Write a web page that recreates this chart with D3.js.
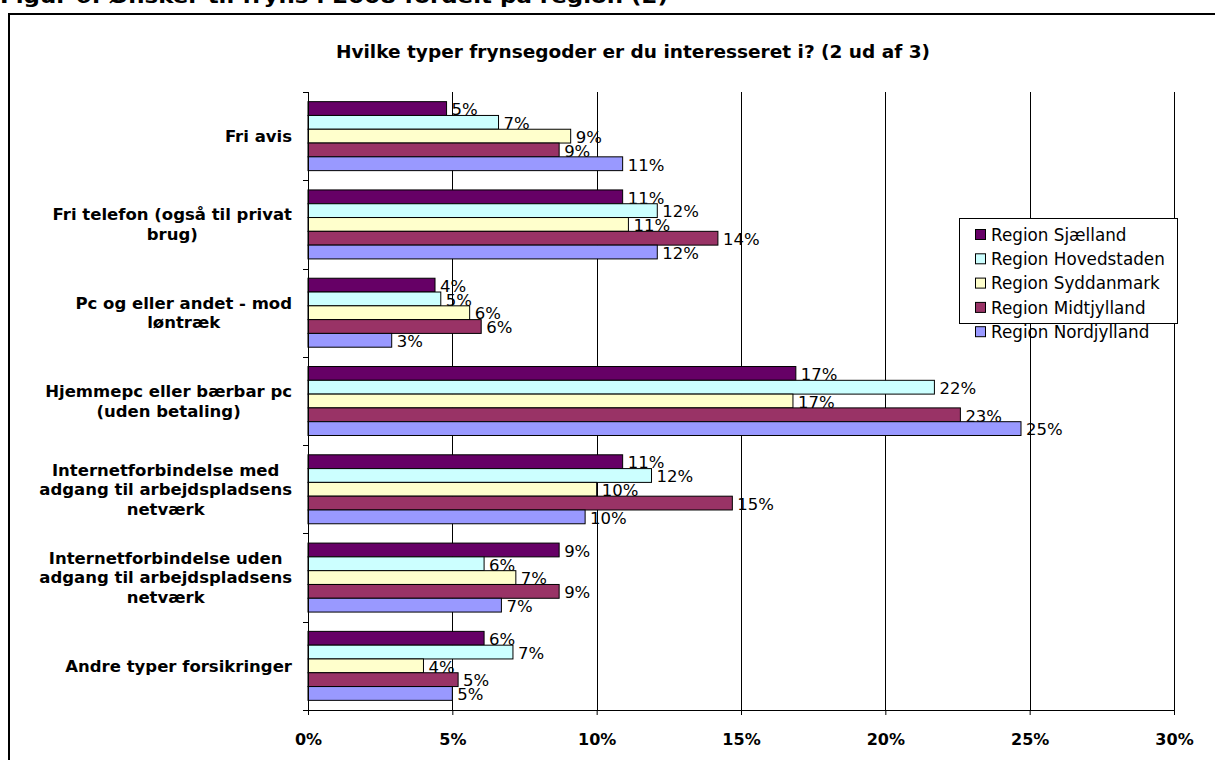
<!DOCTYPE html>
<html>
<head>
<meta charset="utf-8">
<script src="https://cdn.jsdelivr.net/npm/d3@7"></script>
<style>
  html, body { margin: 0; padding: 0; background: #fff; overflow: hidden; }
  svg { display: block; }
</style>
</head>
<body>
<svg id="chart" width="1215" height="760"></svg>
<script>
// Grouped horizontal bars: fringe benefit wishes by region
const categories = [
  "Fri avis",
  "Fri telefon (også til privat\nbrug)",
  "Pc og eller andet - mod\nløntræk",
  "Hjemmepc eller bærbar pc\n(uden betaling)",
  "Internetforbindelse med\nadgang til arbejdspladsens\nnetværk",
  "Internetforbindelse uden\nadgang til arbejdspladsens\nnetværk",
  "Andre typer forsikringer"
];
const regions = ["Region Sjælland", "Region Hovedstaden", "Region Syddanmark", "Region Midtjylland", "Region Nordjylland"];
const regionColors = ["#660066", "#ccffff", "#ffffcc", "#993366", "#9999ff"];

// percent values, one array per region, in category order
const sjaelland   = [4.8, 10.9, 4.4, 16.9, 10.9, 8.7, 6.1];
const hovedstaden = [6.6, 12.1, 4.6, 21.7, 11.9, 6.1, 7.1];
const syddanmark  = [9.1, 11.1, 5.6, 16.8, 10.0, 7.2, 4.0];
const midtjylland = [8.7, 14.2, 6.0, 22.6, 14.7, 8.7, 5.2];
const nordjylland = [10.9, 12.1, 2.9, 24.7, 9.6, 6.7, 5.0];
const xTicks = [0, 5, 10, 15, 20, 25, 30];

const seriesValues = [sjaelland, hovedstaden, syddanmark, midtjylland, nordjylland];
const font = "Verdana, 'DejaVu Sans', sans-serif";

const svg = d3.select("#chart").style("font-family", font);

// page heading, partly cut off at the top like the source
svg.append("text")
  .attr("x", 0).attr("y", 3)
  .attr("font-size", 20).attr("font-weight", "bold")
  .attr("textLength", 668).attr("lengthAdjust", "spacingAndGlyphs")
  .text("Figur 6: Ønsker til fryns i 2008 fordelt på region (2)");

// outer frame
svg.append("rect")
  .attr("x", 9).attr("y", 14).attr("width", 1220).attr("height", 760)
  .attr("fill", "none").attr("stroke", "#000").attr("stroke-width", 2);

svg.append("text")
  .attr("x", 633).attr("y", 58)
  .attr("text-anchor", "middle")
  .attr("font-size", 18.5).attr("font-weight", "bold")
  .text("Hvilke typer frynsegoder er du interesseret i? (2 ud af 3)");

const x = d3.scaleLinear().domain([0, 30]).range([308, 1174]);
const y = d3.scaleBand().domain(categories).range([92, 710]).padding(0);
const yInner = d3.scaleBand().domain(regions).range([0, y.bandwidth()]).paddingInner(0).paddingOuter(0.7);

// vertical gridlines
svg.append("g")
  .selectAll("line")
  .data(xTicks.slice(1))
  .join("line")
  .attr("x1", d => Math.round(x(d)) + 0.5).attr("x2", d => Math.round(x(d)) + 0.5)
  .attr("y1", 92).attr("y2", 710)
  .attr("stroke", "#000").attr("stroke-width", 1);

// bars
const groups = svg.append("g")
  .selectAll("g")
  .data(categories)
  .join("g")
  .attr("transform", d => `translate(0,${y(d)})`);

const cells = groups.selectAll("g")
  .data((c, i) => regions.map((r, k) => ({ region: r, k, value: seriesValues[k][i] })))
  .join("g");

cells.append("rect")
  .attr("x", x(0))
  .attr("y", d => yInner(d.region))
  .attr("width", d => x(d.value) - x(0))
  .attr("height", yInner.bandwidth())
  .attr("fill", d => regionColors[d.k])
  .attr("stroke", "#000").attr("stroke-width", 1);

cells.append("text")
  .attr("x", d => x(d.value) + 5)
  .attr("y", d => yInner(d.region) + yInner.bandwidth() / 2 + 1)
  .attr("dy", "0.35em")
  .attr("font-size", 16.5)
  .attr("fill", "#000")
  .text(d => Math.round(d.value) + "%");

// y axis line and ticks at category boundaries
const yAxis = svg.append("g").attr("stroke", "#000").attr("stroke-width", 1);
yAxis.append("line").attr("x1", 308.5).attr("x2", 308.5).attr("y1", 92).attr("y2", 710);
yAxis.selectAll("line.tick")
  .data(categories.map(c => y(c)).concat([710]))
  .join("line").attr("class", "tick")
  .attr("x1", 303).attr("x2", 308)
  .attr("y1", d => Math.round(d) + 0.5).attr("y2", d => Math.round(d) + 0.5);

// category labels: centered lines, block right aligned
svg.append("g")
  .selectAll("g")
  .data(categories)
  .join("g")
  .each(function (c) {
    const g = d3.select(this);
    const lines = c.split("\n");
    const lh = 19.5;
    const cy = y(c) + y.bandwidth() / 2;
    const t = g.selectAll("text").data(lines).join("text")
      .attr("font-size", 16.5).attr("font-weight", "bold")
      .attr("text-anchor", "middle")
      .attr("y", (d, i) => cy + (i - (lines.length - 1) / 2) * lh)
      .attr("dy", "0.35em")
      .text(d => d);
    let w = 0;
    t.each(function () { w = Math.max(w, this.getComputedTextLength()); });
    t.attr("x", 292 - w / 2);
  });

// x axis
const xAxis = svg.append("g")
  .attr("transform", "translate(0,710)")
  .call(d3.axisBottom(x).tickValues(xTicks).tickFormat(d => d + "%").tickSize(5).tickPadding(19).tickSizeOuter(0));
xAxis.select(".domain").attr("stroke", "#000");
xAxis.selectAll(".tick line").attr("stroke", "#000");
xAxis.selectAll("text")
  .attr("font-family", font).attr("font-size", 16).attr("font-weight", "bold").attr("fill", "#000");

// legend
const legend = svg.append("g").attr("transform", "translate(959,218)");
legend.append("rect")
  .attr("x", 0.5).attr("y", 0.5).attr("width", 218).attr("height", 105)
  .attr("fill", "#fff").attr("stroke", "#000");
const items = legend.selectAll("g.item")
  .data(regions)
  .join("g").attr("class", "item")
  .attr("transform", (d, i) => `translate(16,${17 + i * 24.3})`);
items.append("rect")
  .attr("x", 0.5).attr("y", -5.5).attr("width", 10).attr("height", 10)
  .attr("fill", (d, i) => regionColors[i]).attr("stroke", "#000");
items.append("text")
  .attr("x", 16).attr("dy", "0.35em")
  .attr("font-size", 16.8)
  .text(d => d);
</script>
</body>
</html>
